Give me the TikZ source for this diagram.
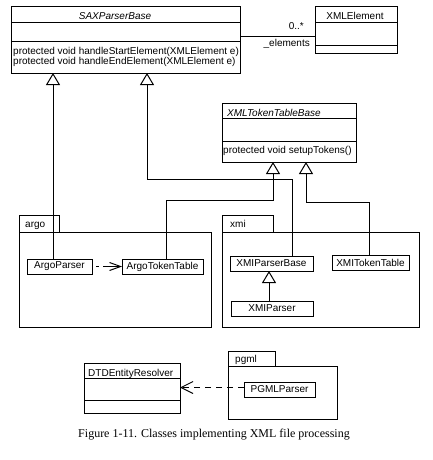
\documentclass[tikz,border=0pt]{standalone}
\usepackage{fontspec}
\setsansfont{Liberation Sans}
\newfontfamily\capfont{Liberation Serif}
\usetikzlibrary{arrows.meta}
\begin{document}
\begin{tikzpicture}[x=1pt,y=-1pt,
  every node/.style={font=\sffamily\fontsize{10}{10}\selectfont},
  cls/.style={draw, line width=1pt, inner sep=0pt, outer sep=0pt},
  nw/.style={anchor=north west},
  txt/.style={inner sep=0pt, anchor=base west},
  ctxt/.style={inner sep=0pt, anchor=base},
  gen/.style={line width=1pt, -{Triangle[open, width=14pt, length=12pt, line width=1pt]}},
  depsmall/.style={line width=1pt, dash pattern=on 0pt off 4pt on 3pt off 4pt on 30pt, -{Straight Barb[length=11pt, width=8pt, line width=1pt]}},
  depbig/.style={line width=1pt, dash pattern=on 6pt off 5pt, -{Straight Barb[length=12pt, width=12pt, line width=1pt]}}
]
\useasboundingbox (0,0) rectangle (433,460);
\fill[white] (0,0) rectangle (433,460);

% SAXParserBase
\node[cls, nw, minimum width=229pt, minimum height=66pt] (sax) at (11,7) {};
\draw[line width=1pt] ([yshift=-16pt]sax.north west) -- ([yshift=-16pt]sax.north east);
\draw[line width=1pt] ([yshift=-35pt]sax.north west) -- ([yshift=-35pt]sax.north east);
\node[ctxt, font=\sffamily\itshape\fontsize{10}{10}\selectfont] (saxname) at (115,19.5) {SAXParserBase};
\node[txt] (saxop1) at (13,55) {protected void handleStartElement(XMLElement e)};
\node[txt] (saxop2) at (13,64) {protected void handleEndElement(XMLElement e)};

% XMLElement
\node[cls, nw, minimum width=82pt, minimum height=47pt] (xmlel) at (315,7) {};
\draw[line width=1pt] ([yshift=-16pt]xmlel.north west) -- ([yshift=-16pt]xmlel.north east);
\draw[line width=1pt] ([yshift=-39pt]xmlel.north west) -- ([yshift=-39pt]xmlel.north east);
\node[ctxt] (xmlelname) at (355,19.5) {XMLElement};

% association
\draw[line width=1pt] ([yshift=-30pt]sax.north east) -- ([yshift=-30pt]xmlel.north west);
\node[inner sep=0pt, anchor=base east] (mult) at (304,30) {0..*};
\node[inner sep=0pt, anchor=base east] (role) at (310,47) {\_elements};

% XMLTokenTableBase
\node[cls, nw, minimum width=134pt, minimum height=59pt] (xmltok) at (222,103) {};
\draw[line width=1pt] ([yshift=-15pt]xmltok.north west) -- ([yshift=-15pt]xmltok.north east);
\draw[line width=1pt] ([yshift=-38pt]xmltok.north west) -- ([yshift=-38pt]xmltok.north east);
\node[txt, font=\sffamily\itshape\fontsize{10}{10}\selectfont] (xmltokname) at (227,116) {XMLTokenTableBase};
\node[txt] (xmltokop) at (223,153.5) {protected void setupTokens()};

% package argo
\node[cls, nw, minimum width=40pt, minimum height=17pt] (argotab) at (19,215) {};
\node[cls, nw, minimum width=192pt, minimum height=95pt] (argobody) at (19,232) {};
\node[txt] (argolabel) at (25,227.5) {argo};

% package xmi
\node[cls, nw, minimum width=51pt, minimum height=17pt] (xmitab) at (222,215) {};
\node[cls, nw, minimum width=197pt, minimum height=95pt] (xmibody) at (222,232) {};
\node[txt] (xmilabel) at (230,227.5) {xmi};

% classes in packages
\node[cls, nw, minimum width=65pt, minimum height=15pt] (argoparser) at (27,259) {ArgoParser};
\node[cls, nw, minimum width=81pt, minimum height=15pt] (argotoken) at (122,259) {ArgoTokenTable};
\node[cls, nw, minimum width=83pt, minimum height=15pt] (xmipb) at (230,256) {XMIParserBase};
\node[cls, nw, minimum width=77pt, minimum height=15pt] (xmitok) at (332,255) {XMITokenTable};
\node[cls, nw, minimum width=82pt, minimum height=15pt] (xmiparser) at (231,301) {XMIParser};

% generalizations
\draw[gen] ([xshift=26pt]argoparser.north west) -- ([xshift=42pt]sax.south west);
\draw[gen] ([xshift=62pt]xmipb.north west) -- ++(0,-77) -| ([xshift=136pt]sax.south west);
\draw[gen] ([xshift=44pt]argotoken.north west) -- ++(0,-59) -| ([xshift=51pt]xmltok.south west);
\draw[gen] ([xshift=37pt]xmitok.north west) -- ++(0,-53) -| ([xshift=84pt]xmltok.south west);
\draw[gen] ([xshift=38pt]xmiparser.north west) -- ([xshift=39pt]xmipb.south west);

% dependency argo
\draw[depsmall] (argoparser.east) -- (argotoken.west);

% DTDEntityResolver
\node[cls, nw, minimum width=96pt, minimum height=50pt] (dtd) at (84,363) {};
\draw[line width=1pt] ([yshift=-15pt]dtd.north west) -- ([yshift=-15pt]dtd.north east);
\draw[line width=1pt] ([yshift=-37pt]dtd.north west) -- ([yshift=-37pt]dtd.north east);
\node[txt] (dtdname) at (88,376) {DTDEntityResolver};

% package pgml
\node[cls, nw, minimum width=47pt, minimum height=15pt] (pgmltab) at (228,351) {};
\node[cls, nw, minimum width=109pt, minimum height=53pt] (pgmlbody) at (228,366) {};
\node[txt] (pgmllabel) at (235,362.5) {pgml};
\node[cls, nw, minimum width=71pt, minimum height=15pt] (pgmlparser) at (244,382) {PGMLParser};

% dependency pgml
\draw[depbig] ([yshift=2pt]pgmlparser.west) -- ([yshift=2pt]pgmlparser.west -| dtd.east);

% caption
\node[ctxt, font=\capfont\fontsize{12}{12}\selectfont] (caption) at (214,437) {Figure 1-11. Classes implementing XML file processing};
\end{tikzpicture}
\end{document}
